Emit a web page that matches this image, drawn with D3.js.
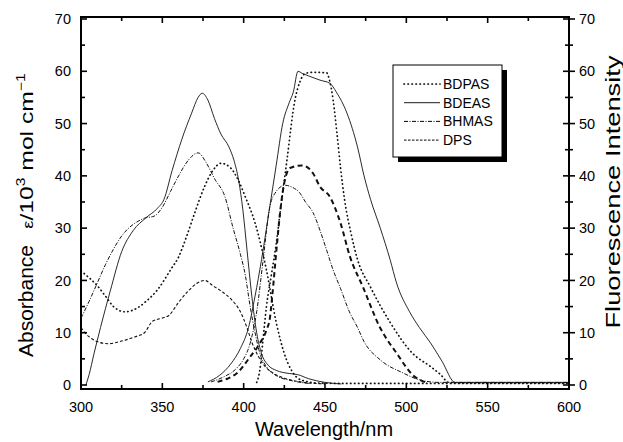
<!DOCTYPE html>
<html>
<head>
<meta charset="utf-8">
<script src="https://cdn.jsdelivr.net/npm/d3@7"></script>
<style>
  body { margin: 0; background: #fff; }
  svg { font-family: "Liberation Sans", Arial, sans-serif; }
</style>
</head>
<body>
<div id="chart"></div>
<script>
// Spectra: [wavelength nm, value]
const bdpasAbs = [[300,21.8],[305,20.5],[310,19],[315,17],[320,15],[327,14],[335,14.8],[340,16],[347,18.2],[355,22],[360,24.5],[365,28.5],[370,33],[376,38],[381,41],[386,42.4],[392,41.5],[397,39],[401,36],[407,31],[414,22],[420,12],[425,6],[430,2.5],[435,1],[445,0.4],[460,0.3],[600,0.3]];
const bdeasAbs = [[303,0],[305,2],[308,6],[312,11],[318,18],[325,25.5],[332,29.5],[340,32],[347,33.8],[351,35.5],[356,41],[362,47],[368,52],[372,55],[374.5,55.8],[378,54.5],[382,51],[386,48],[391,45.5],[394,43],[397,39],[399.5,33.5],[402,26],[405,17],[408,10],[411,6],[415,3.8],[420,2.8],[428,2.2],[433,2],[440,1.2],[450,0.5],[460,0.2]];
const bhmasAbs = [[300,12.8],[305,16],[310,19.5],[315,23],[320,26],[325,28.5],[330,30.2],[335,31.3],[339,31.9],[345,32.3],[350,34],[355,37],[360,40],[366,43],[372,44.4],[377,42.5],[382,39.5],[388.5,36],[393.5,30],[398,25],[401,21],[404,15],[407,10],[410,6],[414,3.5],[420,1.8],[430,0.8],[440,0.3]];
const dpsAbs = [[300,11],[303,9.8],[306,9],[310,8.3],[316.6,7.9],[325,8.4],[333,9.2],[339,10],[344,12.2],[350,12.8],[354,13.3],[360,15.8],[366,18],[371,19.4],[376,20],[381,19],[386,18],[392,16.5],[398,14],[402,11],[405,8.2],[409,5.5],[413,3.6],[418,2.3],[425,1.3],[435,0.6],[450,0.2]];

const bdpasEm = [[408,0.5],[410,3],[412,9],[414,15],[417,21],[420,27],[422.4,33],[426.6,43],[431.5,54.5],[434.6,58],[438,59.6],[442.6,59.8],[451,59.7],[453,58],[455,54.5],[457.4,48],[459.5,41.7],[462,35.5],[466,29],[470,24],[478,18.7],[490,12],[504,6],[515,3.5],[521,2],[526,0.5],[535,0.4],[600,0.4]];
const bdeasEm = [[378,0.6],[385,1.8],[392,4],[398,7],[403,11],[407,17],[411,24],[416,34],[420,42],[424,50],[428,54],[430.5,56],[433.4,60],[436,59.6],[440,59.1],[447,58.3],[453,57.7],[457,56],[463.5,52],[470,45.5],[474,40],[478,35.5],[484,30],[490,24],[494,19.5],[502,14],[508,11],[515,8],[522,4.5],[530,0.5],[540,0.5],[600,0.5]];
const bhmasEm = [[380,0.6],[388,1.6],[395,3],[400,5],[404,8],[408,14],[412,24],[416,34],[420,37],[425.4,38.2],[430,37.8],[434.6,36.7],[438,35],[442.6,33],[447,29.5],[451,25.8],[455,22],[459.5,18.5],[465,14],[470,11],[474,8.3],[484,4.8],[498,2.3],[508,1],[520,0.5],[600,0.5]];
const dpsEm = [[384,0.6],[390,1.2],[396,2.3],[404,5.4],[410,8],[414,10.5],[416.2,13],[417.5,16.8],[420.5,27],[422.4,33],[424.2,37.3],[428.5,41.5],[436,42],[442.6,40.5],[447,37.9],[453,36],[456,34],[459.5,31],[465.4,24.5],[473.4,18.7],[483.8,11],[494,6.1],[504,1.9],[512.6,0.4]];

const seriesNames = ["BDPAS", "BDEAS", "BHMAS", "DPS"];
const xTicks = [300, 350, 400, 450, 500, 550, 600];
const yTicks = [0, 10, 20, 30, 40, 50, 60, 70];

const width = 623, height = 442;
const plotLeft = 81, plotRight = 569, plotTop = 17, plotBottom = 389;

const svg = d3.select("#chart").append("svg")
    .attr("width", width)
    .attr("height", height);

const x = d3.scaleLinear().domain([300, 600]).range([plotLeft, plotRight]);
const y = d3.scaleLinear().domain([0, 70]).range([385, 19]);

const line = d3.line()
    .x(d => x(d[0]))
    .y(d => y(d[1]))
    .curve(d3.curveMonotoneX);

// line styles per compound
const styles = {
  BDPAS: { dash: "0.4,3.6", w: 1.7, cap: "round" },
  BDEAS: { dash: null, w: 0.9, cap: "butt" },
  BHMAS: { dash: "4,1.5,1,1.5", w: 1, cap: "butt" },
  DPS:   { dash: "3,2", w: 1.1, cap: "butt" }
};

const curves = [
  { d: bdpasAbs, s: styles.BDPAS },
  { d: bdeasAbs, s: styles.BDEAS },
  { d: bhmasAbs, s: styles.BHMAS },
  { d: dpsAbs, s: styles.DPS },
  { d: bdpasEm, s: styles.BDPAS },
  { d: bdeasEm, s: styles.BDEAS },
  { d: bhmasEm, s: styles.BHMAS },
  { d: dpsEm, s: { dash: "5,3.5", w: 2, cap: "butt" } }
];

svg.append("g").selectAll("path")
  .data(curves)
  .enter().append("path")
    .attr("d", c => line(c.d))
    .attr("fill", "none")
    .attr("stroke", "#111")
    .attr("stroke-width", c => c.s.w)
    .attr("stroke-linecap", c => c.s.cap)
    .attr("stroke-dasharray", c => c.s.dash);

// frame
svg.append("rect")
    .attr("x", plotLeft).attr("y", plotTop)
    .attr("width", plotRight - plotLeft).attr("height", plotBottom - plotTop)
    .attr("fill", "none")
    .attr("stroke", "#000")
    .attr("stroke-width", 2);

// ticks
const ticks = svg.append("g").attr("stroke", "#000").attr("stroke-width", 1.6);
d3.range(0, 71, 5).forEach(v => {
  const len = v % 10 === 0 ? 6 : 4;
  ticks.append("line").attr("x1", plotLeft).attr("x2", plotLeft + len).attr("y1", y(v)).attr("y2", y(v));
  ticks.append("line").attr("x1", plotRight - len).attr("x2", plotRight + len).attr("y1", y(v)).attr("y2", y(v));
});
d3.range(300, 601, 25).forEach(v => {
  const len = v % 50 === 0 ? 6 : 4;
  ticks.append("line").attr("x1", x(v)).attr("x2", x(v)).attr("y1", plotBottom).attr("y2", plotBottom - len);
  ticks.append("line").attr("x1", x(v)).attr("x2", x(v)).attr("y1", plotTop).attr("y2", plotTop + len);
});

// tick labels
const lab = svg.append("g").attr("font-size", 14.5).attr("fill", "#000");
yTicks.forEach(v => {
  lab.append("text").attr("x", 71).attr("y", y(v)).attr("dy", "0.35em")
    .attr("text-anchor", "end").text(v);
  lab.append("text").attr("x", 579).attr("y", y(v)).attr("dy", "0.35em")
    .attr("text-anchor", "start").text(v);
});
xTicks.forEach(v => {
  lab.append("text").attr("x", x(v)).attr("y", 412)
    .attr("text-anchor", "middle").text(v);
});

// axis titles
svg.append("text")
    .attr("x", 324).attr("y", 436)
    .attr("text-anchor", "middle")
    .attr("font-size", 20)
    .text("Wavelength/nm");

svg.append("text")
    .attr("transform", "translate(33,301) rotate(-90)")
    .attr("text-anchor", "middle")
    .attr("font-size", 21)
    .text("Absorbance");

const yl = svg.append("text")
    .attr("transform", "translate(33,151) rotate(-90) scale(1.3,1)")
    .attr("text-anchor", "middle")
    .attr("font-size", 19);
yl.append("tspan").attr("font-size", 14).text("ε");
yl.append("tspan").text("/10");
yl.append("tspan").attr("font-size", 12).attr("dy", -8).text("3");
yl.append("tspan").attr("dy", 8).text(" mol cm");
yl.append("tspan").attr("font-size", 12).attr("dy", -8).text("\u22121");

svg.append("text")
    .attr("transform", "translate(620,192) rotate(-90) scale(1.4,1)")
    .attr("text-anchor", "middle")
    .attr("font-size", 19.5)
    .text("Fluorescence Intensity");

// legend
const lg = svg.append("g");
lg.append("rect").attr("x", 398).attr("y", 70).attr("width", 109).attr("height", 92).attr("fill", "#000");
lg.append("rect").attr("x", 393).attr("y", 65).attr("width", 109).attr("height", 92)
    .attr("fill", "#fff").attr("stroke", "#000").attr("stroke-width", 1);
const legendStyles = [styles.BDPAS, styles.BDEAS, styles.BHMAS, { dash: "2.5,1.5", w: 1, cap: "butt" }];
seriesNames.forEach((name, i) => {
  const yy = 84 + i * 18.7;
  lg.append("line")
    .attr("x1", 404).attr("x2", 440).attr("y1", yy).attr("y2", yy)
    .attr("stroke", "#000")
    .attr("stroke-width", legendStyles[i].w)
    .attr("stroke-linecap", legendStyles[i].cap)
    .attr("stroke-dasharray", legendStyles[i].dash);
  lg.append("text").attr("x", 443).attr("y", yy).attr("dy", "0.36em")
    .attr("font-size", 14).text(name);
});
</script>
</body>
</html>
